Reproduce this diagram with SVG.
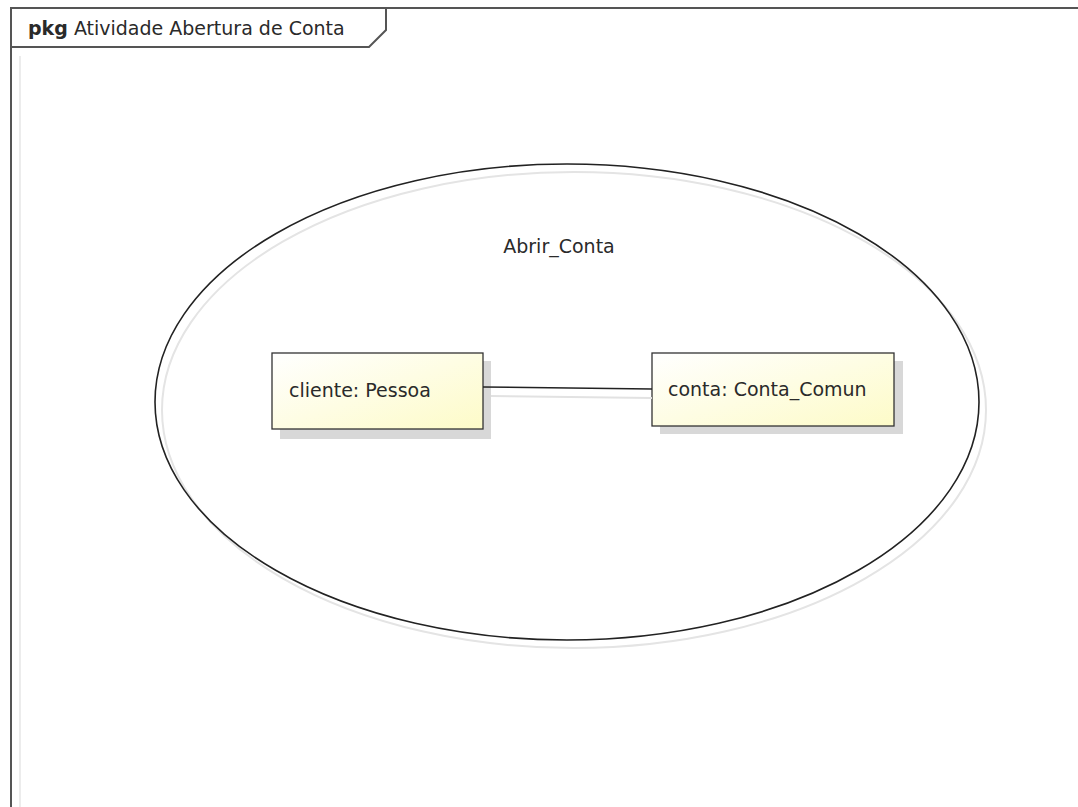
<svg xmlns="http://www.w3.org/2000/svg" width="1078" height="807" viewBox="0 0 1078 807">
  <style>
    text { font-family: "DejaVu Sans", "Liberation Sans", sans-serif; fill: #2a2a2a; }
    .frame { fill: none; stroke: #555; stroke-width: 2; }
    .frame-shadow { fill: none; stroke: #ececec; stroke-width: 2; }
    .shadow { fill: #d8d8d8; }
    .box { fill: url(#noteFill); stroke: #333; stroke-width: 1.3; }
    .edge { stroke: #222; stroke-width: 1.6; fill: none; }
    .edge-shadow { stroke: #e2e2e2; stroke-width: 2; fill: none; }
    .label { font-size: 19px; }
  </style>
  <defs>
    <linearGradient id="noteFill" x1="0" y1="0" x2="1" y2="1">
      <stop offset="0" stop-color="#ffffff"/>
      <stop offset="1" stop-color="#fdfbc8"/>
    </linearGradient>
  </defs>

  <rect width="1078" height="807" fill="#ffffff"/>

  <!-- package frame -->
  <g id="frame">
    <line class="frame-shadow" x1="20" y1="56" x2="20" y2="807"/>
    <path class="frame" d="M11,807 V8 H1078"/>
    <path class="frame" d="M11,47 H369 L386,30 V8"/>
    <text x="28" y="35" font-size="19"><tspan font-weight="bold">pkg</tspan> Atividade Abertura de Conta</text>
  </g>

  <!-- use case -->
  <g id="abrir-conta">
    <ellipse cx="574" cy="410" rx="412" ry="238" fill="none" stroke="#e4e4e4" stroke-width="2"/>
    <ellipse cx="567" cy="402" rx="412" ry="238" fill="none" stroke="#222" stroke-width="1.6"/>
    <text class="label" x="559" y="253" text-anchor="middle">Abrir_Conta</text>
  </g>

  <g id="cliente">
    <rect class="shadow" x="280" y="361" width="211" height="78"/>
    <rect class="box" x="272" y="353" width="211" height="76"/>
    <text class="label" x="289" y="397">cliente: Pessoa</text>
  </g>

  <g id="conta">
    <rect class="shadow" x="660" y="361" width="243" height="73"/>
    <rect class="box" x="652" y="353" width="242" height="73"/>
    <text class="label" x="668" y="396">conta: Conta_Comun</text>
  </g>

  <!-- connectors -->
  <g id="connectors">
    <line class="edge-shadow" x1="491" y1="396" x2="652" y2="398"/>
    <line class="edge" x1="483" y1="387" x2="652" y2="389"/>
  </g>
</svg>
